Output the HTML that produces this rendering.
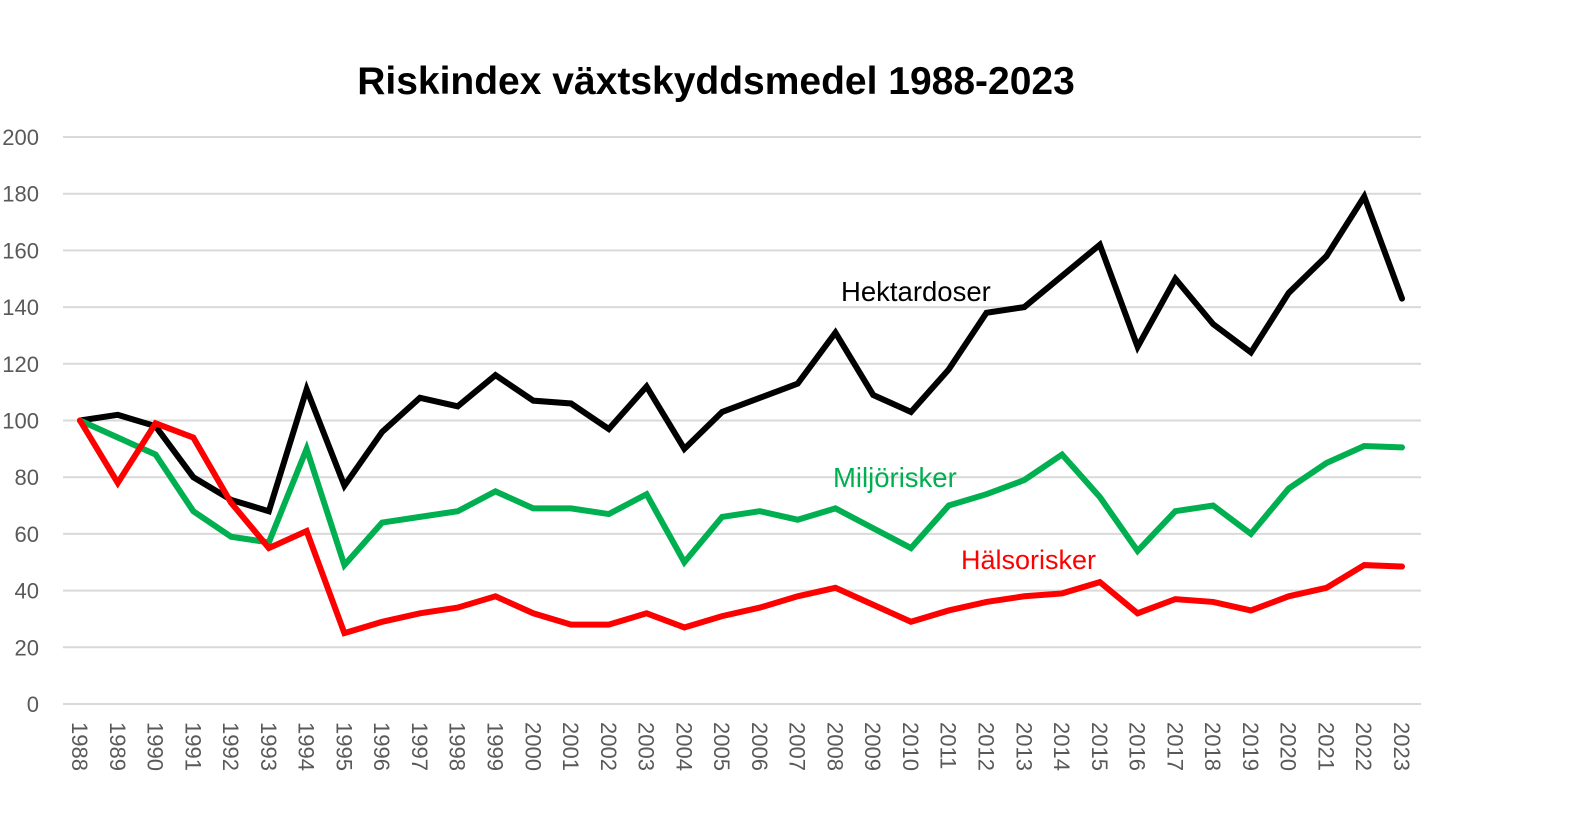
<!DOCTYPE html>
<html><head><meta charset="utf-8"><style>
body{margin:0;background:#fff;}
svg{display:block;font-family:"Liberation Sans",sans-serif;}
</style></head><body>
<svg id="chart" width="1592" height="837">
<text x="716" y="94" text-anchor="middle" font-size="39" font-weight="bold" fill="#000">Riskindex växtskyddsmedel 1988-2023</text>
<g id="grid"></g><g id="yt"></g><g id="xt"></g><g id="lines"></g>
<text x="841" y="301" font-size="27.5" fill="#000">Hektardoser</text>
<text x="833" y="487" font-size="27.5" fill="#00b050">Miljörisker</text>
<text x="961" y="569" font-size="27" fill="#ff0000">Hälsorisker</text>
</svg>
<script>
const years=[];for(let y=1988;y<=2023;y++)years.push(y);
const yTicks=[0,20,40,60,80,100,120,140,160,180,200];
const hektardoser=[100,102,98,80,72,68,111,77,96,108,105,116,107,106,97,112,90,103,108,113,131,109,103,118,138,140,151,162,126,150,134,124,145,158,179,143];
const miljorisker=[100,94,88,68,59,57,90,49,64,66,68,75,69,69,67,74,50,66,68,65,69,62,55,70,74,79,88,73,54,68,70,60,76,85,91,90.5];
const halsorisker=[100,78,99,94,71,55,61,25,29,32,34,38,32,28,28,32,27,31,34,38,41,35,29,33,36,38,39,43,32,37,36,33,38,41,49,48.5];
const NS="http://www.w3.org/2000/svg";
const x0=80,x1=1402,yb=704,yt=137;
const X=i=>x0+i*(x1-x0)/(years.length-1);
const Y=v=>yb-v*(yb-yt)/200;
function mk(t,a,p){const e=document.createElementNS(NS,t);for(const k in a)e.setAttribute(k,a[k]);p.appendChild(e);return e;}
const grid=document.getElementById('grid'),ytg=document.getElementById('yt'),xtg=document.getElementById('xt'),lg=document.getElementById('lines');
yTicks.forEach(v=>{
const l=mk('line',{x1:63,x2:1421,y1:Y(v),y2:Y(v),stroke:'#d9d9d9','stroke-width':2},grid);


const t=mk('text',{x:39,y:Y(v)+8,'text-anchor':'end','font-size':22,fill:'#595959'},ytg);
t.textContent=v;


});
years.forEach((yr,i)=>{
const t=mk('text',{x:0,y:0,'font-size':22,fill:'#595959',transform:`translate(${X(i)-8},722) rotate(90)`},xtg);
t.textContent=yr;


});
[[hektardoser,'#000','line-hektardoser'],[miljorisker,'#00b050','line-miljorisker'],[halsorisker,'#ff0000','line-halsorisker']].forEach(([d,c,n])=>{
const p=mk('polyline',{points:d.map((v,i)=>X(i)+','+Y(v)).join(' '),fill:'none',stroke:c,'stroke-width':6,'stroke-linejoin':'miter','stroke-linecap':'round'},lg);


});
</script>
</body></html>
